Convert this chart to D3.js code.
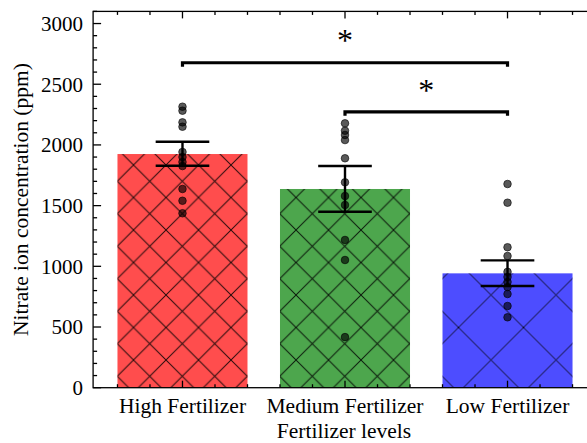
<!DOCTYPE html>
<html>
<head>
<meta charset="utf-8">
<script src="https://cdn.jsdelivr.net/npm/d3@7"></script>
<style>
  html, body { margin: 0; padding: 0; background: #fff; }
  svg { display: block; }
  text { font-family: "Liberation Serif", "Times New Roman", serif; fill: #000; }
</style>
</head>
<body>
<svg id="chart" width="587" height="443"></svg>
<script>
// ---- data ----
const categories = ["High Fertilizer", "Medium Fertilizer", "Low Fertilizer"];
const barValues = [1925, 1637, 942];
const errLow = [1829, 1450, 838];
const errHigh = [2026, 1826, 1049];
const pointsHigh = [2315, 2282, 2186, 2150, 1942, 1900, 1859, 1826, 1637, 1540, 1437];
const pointsMedium = [2178, 2117, 2082, 2040, 1890, 1692, 1579, 1505, 1217, 1052, 417];
const pointsLow = [1678, 1524, 1157, 1085, 954, 912, 871, 829, 772, 673, 580];
const barColors = ["#ff4d4d", "#4da64d", "#4d4dff"];
const yTicks = [0, 500, 1000, 1500, 2000, 2500, 3000];
const brackets = [
  { from: 0, to: 2, y: 2677, star: 2900 },
  { from: 1, to: 2, y: 2273, star: 2488 }
];
const yLabel = "Nitrate ion concentration (ppm)";
const xLabel = "Fertilizer levels";

// ---- layout ----
const svg = d3.select("#chart");
const x = d3.scaleLinear().domain([-0.55, 2.55]).range([93.1, 596.9]);
const y = d3.scaleLinear().domain([0, 3100]).range([387.7, 11.4]);
const barW = 0.8;

// hatch patterns
const defs = svg.append("defs");
function hatch(id, P, ox, oy) {
  const p = defs.append("pattern").attr("id", id)
    .attr("patternUnits", "userSpaceOnUse")
    .attr("width", P).attr("height", P).attr("x", ox).attr("y", oy);
  p.append("path")
    .attr("d", `M-1,-1L${P+1},${P+1}M-1,${P+1}L${P+1},-1`)
    .attr("stroke", "#000").attr("stroke-opacity", 0.85)
    .attr("stroke-width", 1).attr("fill", "none");
}
hatch("hx", 32.5, 296, 295);
hatch("hx2", 65, 458.5, 327.5);
const hatchIds = ["hx", "hx", "hx2"];

const g = svg.append("g");
// bars
g.selectAll("rect.bar").data(barValues).join("rect").attr("class", "bar")
  .attr("x", (d, i) => x(i - barW / 2))
  .attr("width", (d, i) => x(i + barW / 2) - x(i - barW / 2))
  .attr("y", d => y(d)).attr("height", d => y(0) - y(d))
  .attr("fill", (d, i) => barColors[i]);
g.selectAll("rect.hatch").data(barValues).join("rect").attr("class", "hatch")
  .attr("x", (d, i) => x(i - barW / 2))
  .attr("width", (d, i) => x(i + barW / 2) - x(i - barW / 2))
  .attr("y", d => y(d)).attr("height", d => y(0) - y(d))
  .attr("fill", (d, i) => `url(#${hatchIds[i]})`);

// error bars
const capHalf = 0.165;
barValues.forEach((v, i) => {
  const eg = g.append("g").attr("stroke", "#000").attr("stroke-width", 2.4);
  eg.append("line").attr("x1", x(i)).attr("x2", x(i)).attr("y1", y(errLow[i])).attr("y2", y(errHigh[i]));
  [errLow[i], errHigh[i]].forEach(e => {
    eg.append("line").attr("x1", x(i - capHalf)).attr("x2", x(i + capHalf)).attr("y1", y(e)).attr("y2", y(e));
  });
});

// points
[pointsHigh, pointsMedium, pointsLow].forEach((pts, i) => {
  g.selectAll(null).data(pts).join("circle")
    .attr("cx", x(i)).attr("cy", d => y(d)).attr("r", 3.8)
    .attr("fill", "#000").attr("fill-opacity", 0.65)
    .attr("stroke", "#000").attr("stroke-opacity", 0.6).attr("stroke-width", 1);
});

// significance brackets
brackets.forEach(b => {
  const dy = 4;
  g.append("path")
    .attr("d", `M${x(b.from)},${y(b.y) + dy}V${y(b.y)}H${x(b.to)}V${y(b.y) + dy}`)
    .attr("fill", "none").attr("stroke", "#000").attr("stroke-width", 3.2);
  g.append("text").attr("x", (x(b.from) + x(b.to)) / 2).attr("y", y(b.star) + 15.5)
    .attr("text-anchor", "middle").style("font-size", "32px").text("*");
});

// axes frame
const x0 = x.range()[0], x1 = x.range()[1], yb = y(0), yt = y(3100);
const ax = svg.append("g").attr("stroke", "#000").attr("stroke-width", 1.3).attr("fill", "none");
ax.append("rect").attr("x", x0).attr("y", yt).attr("width", x1 - x0).attr("height", yb - yt);

// y ticks (inward)
const yMinor = d3.range(0, 3101, 100);
yMinor.forEach(v => {
  const major = v % 500 === 0;
  const len = major ? 8 : 4;
  ax.append("line").attr("x1", x0).attr("x2", x0 + len).attr("y1", y(v)).attr("y2", y(v));
  ax.append("line").attr("x1", x1).attr("x2", x1 - len).attr("y1", y(v)).attr("y2", y(v));
});
svg.append("g").selectAll("text").data(yTicks).join("text")
  .attr("x", x0 - 10).attr("y", d => y(d)).attr("dy", "0.35em")
  .attr("text-anchor", "end").style("font-size", "21px").text(d => d);

// x ticks (inward, top and bottom)
const xMinor = d3.range(-4, 13).map(k => k * 0.2).filter(v => v >= -0.55 && v <= 2.55);
xMinor.forEach(v => {
  const major = Math.abs(v - Math.round(v)) < 1e-6;
  const len = major ? 7 : 3.5;
  ax.append("line").attr("x1", x(v)).attr("x2", x(v)).attr("y1", yb).attr("y2", yb - len);
  ax.append("line").attr("x1", x(v)).attr("x2", x(v)).attr("y1", yt).attr("y2", yt + len);
});
svg.append("g").selectAll("text").data(categories).join("text")
  .attr("x", (d, i) => x(i)).attr("y", 412.5)
  .attr("text-anchor", "middle").style("font-size", "21.5px").text(d => d);

// axis titles
svg.append("text").attr("x", 344).attr("y", 437.5)
  .attr("text-anchor", "middle").style("font-size", "21.5px").text(xLabel);
svg.append("text").attr("transform", `translate(28,${(yb + yt) / 2}) rotate(-90)`)
  .attr("text-anchor", "middle").style("font-size", "21.5px").text(yLabel);
</script>
</body>
</html>
